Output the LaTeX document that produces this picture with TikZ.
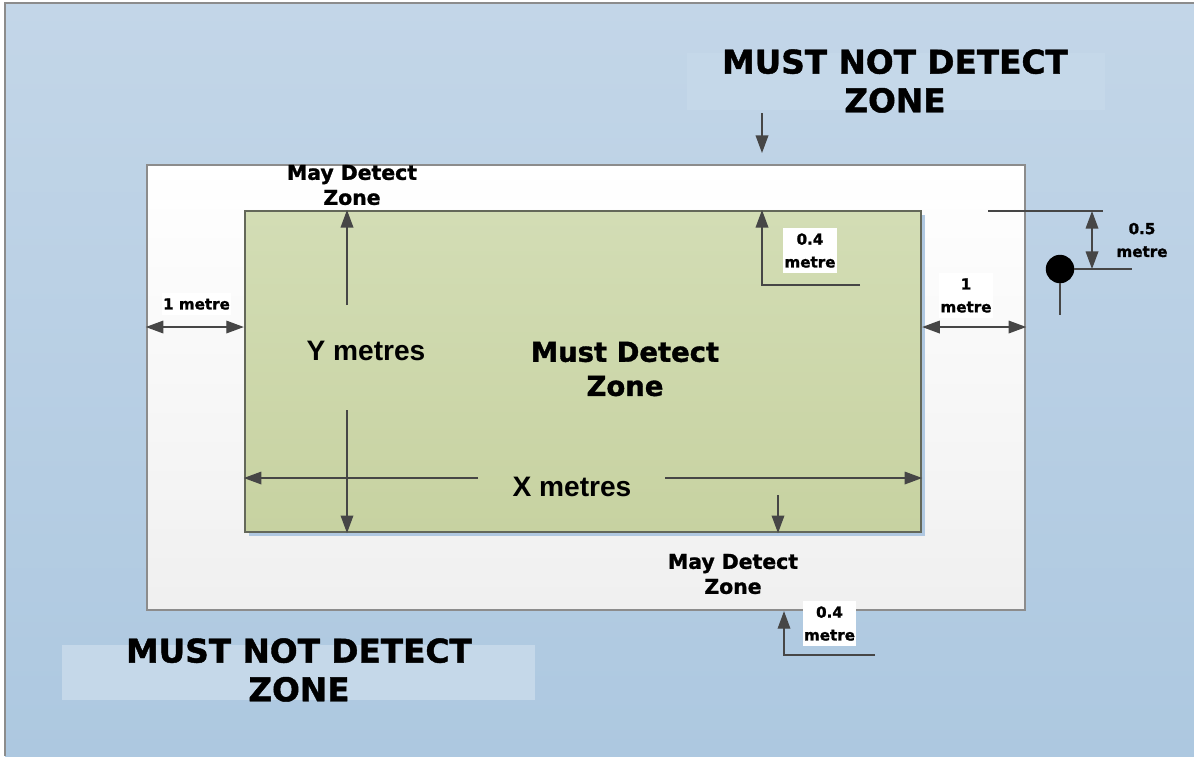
\documentclass[tikz,border=0pt]{standalone}
\usepackage{fontspec}
\setmainfont{Liberation Sans}
\newfontfamily\heavyfont{DejaVu Sans}[UprightFont={* Bold},FakeBold=1.3]
\usepackage{tikz}
\usetikzlibrary{arrows.meta,positioning,calc}
\definecolor{skytop}{RGB}{195,214,232}
\definecolor{skybot}{RGB}{173,200,224}
\definecolor{tagblue}{RGB}{197,216,233}
\definecolor{greentop}{RGB}{211,221,181}
\definecolor{greenbot}{RGB}{199,210,161}
\definecolor{greenedge}{RGB}{100,104,90}
\definecolor{zoneedge}{RGB}{140,140,140}
\definecolor{shadowblue}{RGB}{176,200,225}
\definecolor{dimgray}{RGB}{70,70,70}

\begin{document}
\begin{tikzpicture}[x=0.01cm,y=-0.01cm,
   zone/.style={line width=0.55pt,inner sep=0pt},
   dimline/.style={draw=dimgray,line width=0.38pt},
   tip/.style={-{Triangle[length=5pt,width=3.6pt]}},
   twotip/.style={{Triangle[length=5pt,width=3.6pt]}-{Triangle[length=5pt,width=3.6pt]}},
   bigtag/.style={font=\heavyfont\fontsize{9.3}{11}\selectfont,align=center,inner sep=0pt},
   maytag/.style={font=\heavyfont\fontsize{5.8}{7.1}\selectfont,align=center,inner sep=0pt},
   smalltag/.style={font=\heavyfont\fontsize{4.3}{6.5}\selectfont,align=center,
                    inner xsep=0.4pt,inner ysep=1.6pt},
   axistag/.style={font=\bfseries\fontsize{8}{9.6}\selectfont,inner sep=0pt}]
  \useasboundingbox (0,0) rectangle (1194,756);
  % background
  \shade[top color=skytop,bottom color=skybot] (5,3) rectangle (1194,756);
  \draw[zoneedge,line width=0.6pt] (5,756) -- (5,3) -- (1194,3);
  \fill[tagblue] (687,53) rectangle (1105,110);
  \fill[tagblue] (62,645) rectangle (535,700);

  % zones
  \node[zone,draw=zoneedge,top color=white,bottom color=black!6,
        minimum width=8.78cm,minimum height=4.45cm] (white) at (586,387.5) {};
  \fill[shadowblue] (249,215) rectangle (925,536);
  \node[zone,draw=greenedge,top color=greentop,bottom color=greenbot,
        minimum width=6.76cm,minimum height=3.21cm] (green) at (583,371.5) {};

  % texts
  \node[bigtag] (nottop) at (895,81) {MUST NOT DETECT\\ZONE};
  \node[bigtag] (notbot) at (299,670) {MUST NOT DETECT\\ZONE};
  \node[bigtag,font=\heavyfont\fontsize{7.8}{9.7}\selectfont] (must) at (625,369) {Must Detect\\Zone};
  \node[maytag] (maytop) at (352,185) {May Detect\\Zone};
  \node[maytag] (maybot) at (733,574) {May Detect\\Zone};
  \node[axistag] (ytag) at (366,351) {Y metres};
  \node[axistag] (xtag) at (572,487) {X metres};
  \node[smalltag,fill=white] (gaptop) at (810,250.5) {0.4\\metre};
  \node[smalltag,fill=white] (gapbot) at (829.5,623.5) {0.4\\metre};
  \node[smalltag,fill=white] (sideright) at (966,295.5) {1\\metre};
  \node[smalltag,fill=white] (sideleft) at (196.5,304) {1 metre};
  \node[smalltag] (height) at (1142,240) {0.5\\metre};

  % sensor
  \node[circle,fill=black,draw=black,minimum size=0.27cm,inner sep=0pt] (sensor) at (1060,269) {};

  % helper points
  \coordinate (downin) at (762,113);
  \coordinate (downtip) at (762,153);
  \coordinate (yup) at (347,305);
  \coordinate (ydown) at (347,410);
  \coordinate (xleft) at (478,478);
  \coordinate (xright) at (665,478);
  \coordinate (cornertop) at (762,285);
  \coordinate (cornertopend) at (860,285);
  \coordinate (cornerbot) at (784,655);
  \coordinate (cornerbotend) at (875,655);
  \coordinate (botin) at (778,495);
  \coordinate (sideline) at (0,327);
  \coordinate (reftop) at (988,211);
  \coordinate (refend) at (1103,211);
  \coordinate (halfa) at (1092,211);
  \coordinate (halfb) at (1092,269);
  \coordinate (senline) at (1132,269);
  \coordinate (senfoot) at (1060,315);

  % dimension lines
  \draw[dimline,tip] (downin) -- (downtip);
  \draw[dimline,tip] (yup) -- (yup |- green.north);
  \draw[dimline,tip] (ydown) -- (ydown |- green.south);
  \draw[dimline,tip] (xleft) -- (xleft -| green.west);
  \draw[dimline,tip] (xright) -- (xright -| green.east);
  \draw[dimline,tip] (cornertopend) -- (cornertop) -- (cornertop |- green.north);
  \draw[dimline,tip] (cornerbotend) -- (cornerbot) -- (cornerbot |- white.south);
  \draw[dimline,tip] (botin) -- (botin |- green.south);
  \draw[dimline,twotip] (sideline -| white.west) -- (sideline -| green.west);
  \draw[dimline,twotip] (sideline -| green.east) -- (sideline -| white.east);
  \draw[dimline] (reftop) -- (refend);
  \draw[dimline,twotip] (halfa) -- (halfb);
  \draw[dimline] (sensor.east) -- (senline);
  \draw[dimline] (sensor.south) -- (senfoot);
\end{tikzpicture}
\end{document}
